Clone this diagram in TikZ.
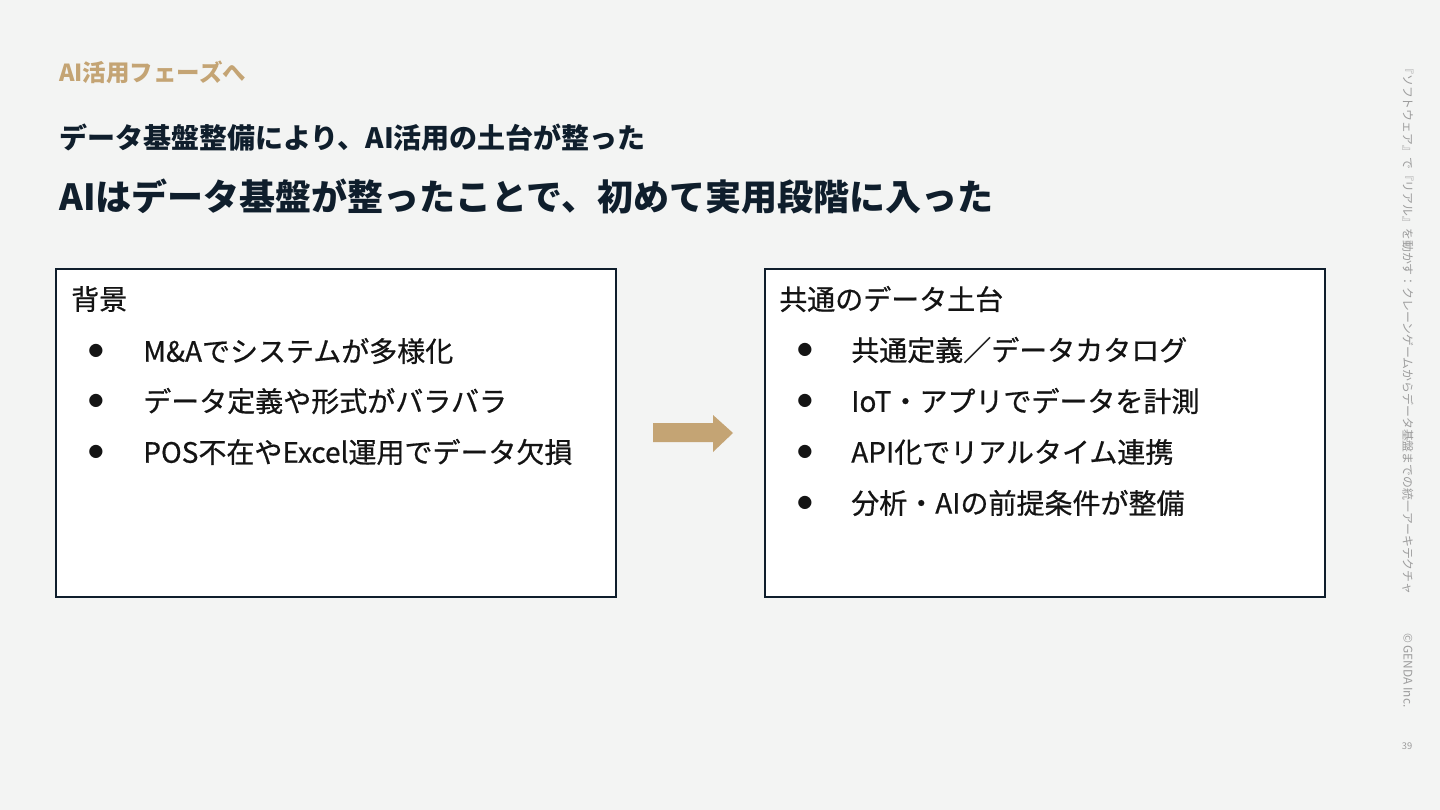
\documentclass[tikz,border=0pt]{standalone}
\usepackage{fontspec}
\setmainfont{Noto Sans CJK JP}
\newfontfamily\boxfont{Noto Sans CJK JP}[FakeBold=0.6]
\usetikzlibrary{positioning}
\definecolor{pagebg}{HTML}{F3F4F3}
\definecolor{ink}{HTML}{0F1E2C}
\definecolor{boxink}{HTML}{141414}
\definecolor{gold}{HTML}{C4A474}
\definecolor{note}{HTML}{9C9C9C}

\begin{document}
\begin{tikzpicture}[x=0.75pt,y=-0.75pt]
\tikzset{
    phase/.style={anchor=west, inner sep=0pt, text=gold, font=\bfseries\fontsize{17.6}{20}\selectfont},
    lead/.style={anchor=west, inner sep=0pt, text=ink, font=\bfseries\fontsize{21}{24}\selectfont},
    ttl/.style={anchor=west, inner sep=0pt, text=ink, font=\bfseries\fontsize{27}{32}\selectfont},
    panel/.style={draw=ink, line width=0.9pt, fill=white, minimum width=420pt, minimum height=246pt, inner sep=0pt},
    item/.style={anchor=west, inner sep=0pt, text=boxink, font=\boxfont\fontsize{21}{24}\selectfont},
    dot/.style={inner sep=0pt, text=boxink, font=\fontsize{11}{13}\selectfont},
    side/.style={anchor=west, rotate=-90, inner sep=0pt, text=note, font=\fontsize{8.9}{10}\selectfont}
}

% --- page ---
\fill[pagebg] (0,0) rectangle (1440,810);
\useasboundingbox (0,0) rectangle (1440,810);

% --- headings ---
\node[phase] (phasetag) at (59,72) {AI活用フェーズへ};
\node[lead] (leadline) at (59,138) {データ基盤整備により、AI活用の土台が整った};
\node[ttl] (headline) at (59,197) {AIはデータ基盤が整ったことで、初めて実用段階に入った};

% --- panels ---
\node[panel] (bgbox) at (336,433) {};
\node[panel] (basebox) at (1045,433) {};

% --- left panel text ---
\node[item] (bghead) at (71,299) {背景};
\node[dot] (bgd1) at (96,351) {●};
\node[item] (bgi1) at (143,351) {M\&Aでシステムが多様化};
\node[dot] (bgd2) at (96,401) {●};
\node[item] (bgi2) at (143,401) {データ定義や形式がバラバラ};
\node[dot] (bgd3) at (96,452) {●};
\node[item] (bgi3) at (143,452) {POS不在やExcel運用でデータ欠損};

% --- right panel text ---
\node[item] (basehead) at (779,299) {共通のデータ土台};
\node[dot] (based1) at (805,350) {●};
\node[item] (basei1) at (851,350) {共通定義／データカタログ};
\node[dot] (based2) at (805,401) {●};
\node[item] (basei2) at (851,401) {IoT・アプリでデータを計測};
\node[dot] (based3) at (805,452) {●};
\node[item] (basei3) at (851,452) {API化でリアルタイム連携};
\node[dot] (based4) at (805,503) {●};
\node[item] (basei4) at (851,503) {分析・AIの前提条件が整備};

% --- arrow ---
\fill[gold] (653,423) -- (713,423) -- (713,415) -- (733,433) -- (713,452) -- (713,442) -- (653,442) -- cycle;

% --- side notes ---
\node[side] (deck) at (1408,62) {『ソフトウェア』で『リアル』を動かす：クレーンゲームからデータ基盤までの統一アーキテクチャ};
\node[side] (copy) at (1408,633) {© GENDA Inc.};
\node[text=note, inner sep=0pt, font=\fontsize{7}{8}\selectfont] (pageno) at (1407,746) {39};
\end{tikzpicture}
\end{document}
